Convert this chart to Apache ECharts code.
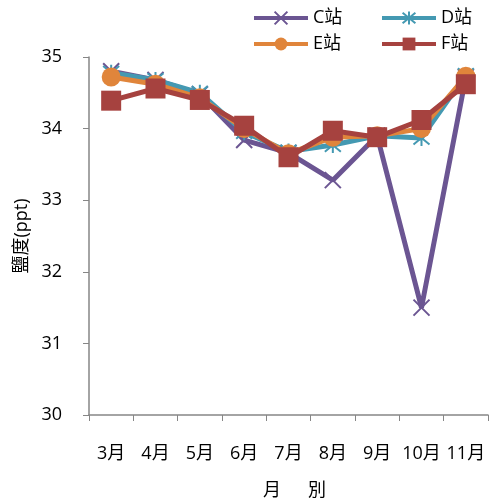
<!DOCTYPE html>
<html>
<head>
<meta charset="utf-8">
<script src="https://cdn.jsdelivr.net/npm/echarts@6/dist/echarts.min.js"></script>
<style>
html,body{margin:0;padding:0;background:#fff;}
#chart{width:491px;height:504px;}
</style>
</head>
<body>
<div id="chart"></div>
<script>
// Monthly salinity (ppt) at four stations
const months = ['3月','4月','5月','6月','7月','8月','9月','10月','11月'];
const stationC = [34.80, 34.68, 34.48, 33.84, 33.66, 33.28, 33.90, 31.50, 34.72];
const stationD = [34.78, 34.68, 34.50, 33.95, 33.68, 33.77, 33.90, 33.87, 34.75];
const stationE = [34.72, 34.62, 34.43, 34.00, 33.65, 33.88, 33.90, 34.00, 34.73];
const stationF = [34.39, 34.56, 34.40, 34.04, 33.60, 33.97, 33.88, 34.12, 34.62];
const yTicks = [30, 31, 32, 33, 34, 35];

const FONT = '"Open Sans","Noto Sans CJK TC",sans-serif';
const FS = 18;
const crossPath = 'path://M0,0L10,10M10,0L0,10';
const starPath = 'path://M0,0L10,10M10,0L0,10M5,-1L5,11';

function mk(name, data, color, symbol, size, hollow) {
  return {
    name, type: 'line', data,
    symbol, symbolSize: size,
    lineStyle: { width: 5, color },
    itemStyle: hollow
      ? { color: color, borderColor: color, borderWidth: 2 }
      : { color: color, borderWidth: 0 },
    emphasis: { disabled: true },
    animation: false
  };
}

// two legend columns
function legendCol(names, left) {
  return {
    data: names, orient: 'vertical',
    left, top: 4,
    itemWidth: 54, itemHeight: 16, itemGap: 8,
    lineStyle: { width: 4 },
    textStyle: { fontSize: FS, color: '#000', fontFamily: FONT }
  };
}

const chart = echarts.init(document.getElementById('chart'), null, { renderer: 'canvas' });
chart.setOption({
  backgroundColor: '#fff',
  textStyle: { fontFamily: FONT },
  legend: [legendCol(['C站','E站'], 247), legendCol(['D站','F站'], 375)],
  grid: { left: 89, right: 3, top: 57, bottom: 89, outerBoundsMode: 'none', containLabel: false },
  xAxis: {
    type: 'category', data: months,
    boundaryGap: true,
    name: '月　\u2002別', nameLocation: 'middle', nameGap: 67,
    nameTextStyle: { fontSize: FS, color: '#000', padding: [0, 0, 0, 12] },
    axisLine: { lineStyle: { color: '#868686', width: 1.5 } },
    axisTick: { show: true, length: 6, alignWithLabel: false, lineStyle: { color: '#868686' } },
    axisLabel: { fontSize: FS, color: '#000', margin: 30, interval: 0, hideOverlap: false }
  },
  yAxis: {
    type: 'value', min: yTicks[0], max: yTicks[yTicks.length - 1], interval: 1,
    name: '鹽度(ppt)', nameLocation: 'middle', nameGap: 53,
    nameTextStyle: { fontSize: FS, color: '#000' },
    axisLine: { show: true, lineStyle: { color: '#868686', width: 1.5 } },
    axisTick: { show: true, length: 6, lineStyle: { color: '#868686' } },
    splitLine: { show: false },
    axisLabel: { fontSize: FS, color: '#000', margin: 27 }
  },
  series: [
    mk('C站', stationC, '#6B5592', crossPath, 16, true),
    mk('D站', stationD, '#4499B2', starPath, 16, true),
    mk('E站', stationE, '#E0853B', 'circle', 19, false),
    mk('F站', stationF, '#A6423F', 'rect', 20, false)
  ]
});
</script>
</body>
</html>
